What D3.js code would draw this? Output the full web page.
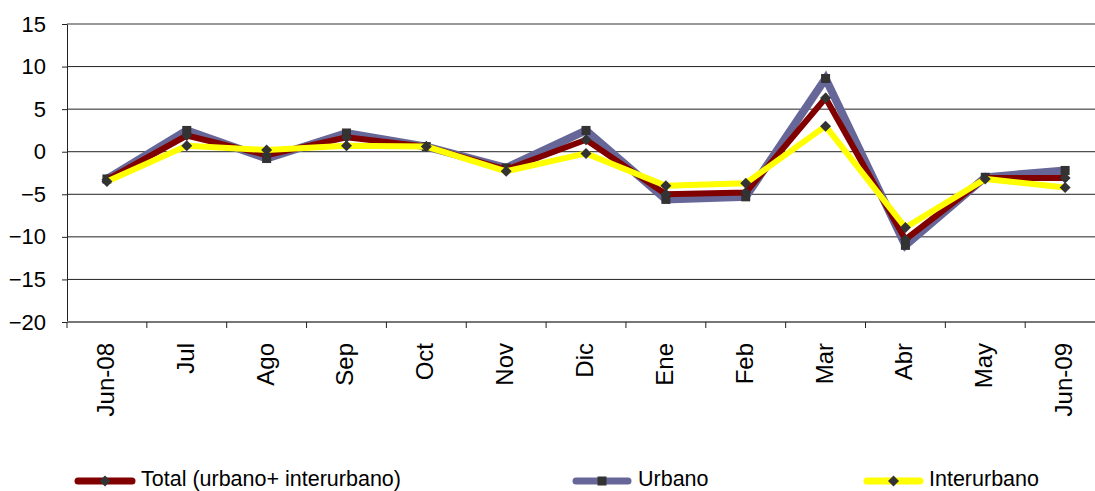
<!DOCTYPE html>
<html><head><meta charset="utf-8">
<script src="https://cdn.jsdelivr.net/npm/d3@7"></script>
<style>body{margin:0;background:#fff;overflow:hidden}svg{display:block}</style>
</head><body>
<svg id="c" width="1095" height="491"></svg>
<script>
const categories = ["Jun-08","Jul","Ago","Sep","Oct","Nov","Dic","Ene","Feb","Mar","Abr","May","Jun-09"];
const total = [-3.3, 1.9, -0.4, 1.7, 0.6, -2.1, 1.4, -5.0, -4.8, 6.3, -10.3, -3.1, -3.1];
const urbano = [-3.2, 2.5, -0.8, 2.2, 0.6, -1.9, 2.5, -5.6, -5.3, 8.6, -11.0, -3.0, -2.2];
const interurbano = [-3.5, 0.7, 0.2, 0.7, 0.6, -2.3, -0.2, -4.0, -3.7, 3.0, -8.9, -3.2, -4.2];
const yTicks = [-20, -15, -10, -5, 0, 5, 10, 15];
const seriesNames = ["Total (urbano+ interurbano)", "Urbano", "Interurbano"];

const svg = d3.select("#c");
const L = 67, R = 67 + 13 * 79.85, T = 24, B = 322;
const x = d3.scaleBand().domain(categories).range([L, R]);
const y = d3.scaleLinear().domain([-20, 15]).range([B, T]);

// gridlines
svg.append("g").selectAll("line").data(yTicks.filter(d => d > -20 && d < 15)).join("line")
  .attr("x1", L).attr("x2", R).attr("y1", d => y(d)).attr("y2", d => y(d))
  .attr("stroke", "#222").attr("stroke-width", 1);
svg.append("line").attr("x1", L).attr("x2", R).attr("y1", y(15)).attr("y2", y(15))
  .attr("stroke", "#999").attr("stroke-width", 2);

// y axis
const ya = svg.append("g").attr("transform", `translate(${L},0)`)
  .call(d3.axisLeft(y).tickValues(yTicks).tickSize(5).tickSizeOuter(0).tickPadding(16));
ya.select(".domain").attr("stroke", "#222");
ya.selectAll(".tick line").attr("stroke", "#222");
ya.selectAll("text").attr("font-family", "Liberation Sans, Arial, sans-serif").attr("font-size", 22).attr("fill", "#000");

// x axis
svg.append("line").attr("x1", L).attr("x2", R).attr("y1", B).attr("y2", B).attr("stroke", "#777").attr("stroke-width", 2);
const bounds = d3.range(categories.length + 1).map(i => L + i * x.bandwidth());
svg.append("g").selectAll("line").data(bounds).join("line")
  .attr("x1", d => d).attr("x2", d => d).attr("y1", B).attr("y2", B + 6).attr("stroke", "#222");
svg.append("g").selectAll("text").data(categories).join("text")
  .attr("transform", d => `translate(${x(d) + x.bandwidth() / 2 + 7},${B + 21}) rotate(-90)`)
  .attr("text-anchor", "end").attr("font-family", "Liberation Sans, Arial, sans-serif")
  .attr("font-size", 24).attr("fill", "#000").text(d => d);

const cx = (d, i) => x(categories[i]) + x.bandwidth() / 2;
const line = d3.line().x((d, i) => cx(d, i)).y(d => y(d));

const series = [
  {name: seriesNames[1], data: urbano, color: "#666699", w: 8, marker: "square"},
  {name: seriesNames[0], data: total, color: "#800000", w: 6, marker: "diamond"},
  {name: seriesNames[2], data: interurbano, color: "#FFFF00", w: 6, marker: "diamond"}
];
function marker(g, type, px, py) {
  if (type === "square") {
    g.append("rect").attr("x", px - 4.5).attr("y", py - 4.5).attr("width", 9).attr("height", 9).attr("fill", "#333");
  } else {
    g.append("path").attr("d", `M${px},${py - 5.5}L${px + 5.5},${py}L${px},${py + 5.5}L${px - 5.5},${py}Z`).attr("fill", "#333");
  }
}
series.forEach(s => {
  const g = svg.append("g");
  g.append("path").datum(s.data).attr("d", line).attr("fill", "none")
    .attr("stroke", s.color).attr("stroke-width", s.w).attr("stroke-linejoin", "miter");
  s.data.forEach((v, i) => marker(g, s.marker, cx(v, i), y(v)));
});

// legend: Total, Urbano, Interurbano
const leg = [
  {s: series[1], x0: 78, x1: 132, tx: 141},
  {s: series[0], x0: 576, x1: 628, tx: 638},
  {s: series[2], x0: 867, x1: 920, tx: 929}
];
leg.forEach(l => {
  const s = l.s;
  const ly = 481;
  const g = svg.append("g");
  g.append("line").attr("x1", l.x0).attr("x2", l.x1).attr("y1", ly).attr("y2", ly)
    .attr("stroke", s.color).attr("stroke-width", 7).attr("stroke-linecap", "round");
  marker(g, s.marker, (l.x0 + l.x1) / 2, ly);
  g.append("text").attr("x", l.tx).attr("y", 486).attr("font-family", "Liberation Sans, Arial, sans-serif")
    .attr("font-size", 21.5).attr("fill", "#000").text(s.name);
});
</script>
</body></html>
